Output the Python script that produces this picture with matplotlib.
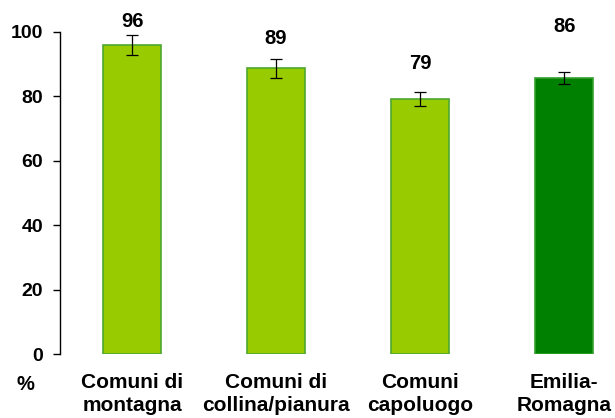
import matplotlib.pyplot as plt

categories = ['Comuni di\nmontagna', 'Comuni di\ncollina/pianura', 'Comuni\ncapoluogo', 'Emilia-\nRomagna']
values = [95.7, 88.6, 79.2, 85.7]
errors = [3.1, 3.0, 2.2, 1.9]
labels = ['96', '89', '79', '86']
label_y = [103, 98, 90, 101.7]

face = ['#99cc00', '#99cc00', '#99cc00', '#008000']
edge = ['#4ea72e', '#4ea72e', '#4ea72e', '#33a02c']

plt.rcParams['font.family'] = ['Liberation Sans', 'DejaVu Sans']
plt.rcParams['font.weight'] = 'bold'

fig = plt.figure(figsize=(6.15, 4.18), dpi=100)
ax = fig.add_axes([0.0976, 0.153, 0.937, 0.7715])

x = range(len(categories))
ax.bar(x, values, width=0.4, color=face, edgecolor=edge, linewidth=1.2,
       yerr=errors, error_kw=dict(ecolor='black', elinewidth=0.9, capsize=4, capthick=0.9))

for i, t in enumerate(labels):
    ax.text(i, label_y[i], t, ha='center', va='center', fontsize=14.5, fontweight='bold', clip_on=False)

ax.set_xlim(-0.5, 3.5)
ax.set_ylim(0, 100)
ax.set_yticks([0, 20, 40, 60, 80, 100])
ax.tick_params(axis='y', labelsize=14, length=5, width=1, pad=7, color='black')
for lab in ax.get_yticklabels():
    lab.set_fontweight('bold')

ax.set_xticks(list(x))
ax.set_xticklabels(categories, fontsize=15, fontweight='bold', linespacing=1.25, va='top')
ax.tick_params(axis='x', length=0, pad=14)

for s in ['top', 'right', 'bottom']:
    ax.spines[s].set_visible(False)
ax.spines['left'].set_linewidth(1)

fig.text(25 / 615, 1 - 384 / 418, '%', ha='center', va='center', fontsize=14.5, fontweight='bold')

fig.savefig('out.png', dpi=100)
